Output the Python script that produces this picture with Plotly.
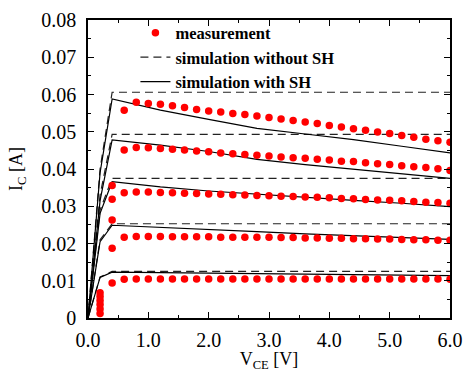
import plotly.graph_objects as go

# ---------------- data ----------------
vce_meas = [0.6, 0.8, 1.0, 1.2, 1.4, 1.6, 1.8, 2.0, 2.2, 2.4, 2.6, 2.8, 3.0, 3.2,
            3.4, 3.6, 3.8, 4.0, 4.2, 4.4, 4.6, 4.8, 5.0, 5.2, 5.4, 5.6, 5.8, 6.0]
ic_meas_1 = [0.0104, 0.0105, 0.0105, 0.0105, 0.0105, 0.0105, 0.0105, 0.0105, 0.0105, 0.0105,
             0.0105, 0.0105, 0.0105, 0.0105, 0.0105, 0.0105, 0.0105, 0.0105, 0.0105, 0.0105,
             0.0105, 0.0105, 0.0105, 0.0105, 0.0105, 0.0105, 0.0105, 0.0104]
ic_meas_2 = [0.0217, 0.0219, 0.0219, 0.0219, 0.0218, 0.0218, 0.0218, 0.0218, 0.0217, 0.0217,
             0.0217, 0.0217, 0.0217, 0.0216, 0.0216, 0.0215, 0.0215, 0.0214, 0.0214, 0.0213,
             0.0213, 0.0212, 0.0212, 0.0211, 0.0210, 0.0210, 0.0209, 0.0209]
ic_meas_3 = [0.0336, 0.0338, 0.0338, 0.0337, 0.0336, 0.0335, 0.0334, 0.0333, 0.0332, 0.0331,
             0.0330, 0.0329, 0.0328, 0.0327, 0.0326, 0.0325, 0.0324, 0.0323, 0.0321, 0.0320,
             0.0318, 0.0317, 0.0316, 0.0315, 0.0313, 0.0311, 0.0310, 0.0308]
ic_meas_4 = [0.0451, 0.0458, 0.0457, 0.0455, 0.0453, 0.0451, 0.0448, 0.0446, 0.0443, 0.0441,
             0.0439, 0.0437, 0.0435, 0.0432, 0.0430, 0.0429, 0.0426, 0.0424, 0.0421, 0.0420,
             0.0417, 0.0414, 0.0412, 0.0409, 0.0406, 0.0404, 0.0401, 0.0396]
ic_meas_5 = [0.0558, 0.0579, 0.0576, 0.0574, 0.0570, 0.0565, 0.0560, 0.0556, 0.0553, 0.0549,
             0.0546, 0.0542, 0.0538, 0.0534, 0.0530, 0.0526, 0.0522, 0.0517, 0.0513, 0.0508,
             0.0504, 0.0499, 0.0495, 0.0490, 0.0485, 0.0480, 0.0476, 0.0472]

# measured points in the saturation region
sat_vce = [0.2, 0.2, 0.2, 0.2, 0.2, 0.2, 0.4, 0.4, 0.4, 0.4, 0.4]
sat_ic = [0.0012, 0.0024, 0.0036, 0.0047, 0.0058, 0.0068, 0.0094, 0.0187, 0.0263, 0.0319, 0.0356]

# simulation without self-heating
vce_noSH = [0.0, 0.2, 0.4, 6.0]
ic_noSH_1 = [0.0, 0.0110, 0.0125, 0.0125]
ic_noSH_2 = [0.0, 0.0210, 0.0253, 0.0253]
ic_noSH_3 = [0.0, 0.0290, 0.0375, 0.0375]
ic_noSH_4 = [0.0, 0.0330, 0.0493, 0.0493]
ic_noSH_5 = [0.0, 0.0400, 0.0606, 0.0606]

# simulation with self-heating
vce_SH = [0.0, 0.2, 0.4, 1.2, 2.0, 2.8, 3.6, 4.4, 5.2, 6.0]
ic_SH_1 = [0.0, 0.0109, 0.0123, 0.0122, 0.0121, 0.0119, 0.0118, 0.0117, 0.0115, 0.0114]
ic_SH_2 = [0.0, 0.0205, 0.0249, 0.0244, 0.0238, 0.0232, 0.0226, 0.0221, 0.0216, 0.0211]
ic_SH_3 = [0.0, 0.0281, 0.0366, 0.0352, 0.0341, 0.0332, 0.0324, 0.0316, 0.0308, 0.0299]
ic_SH_4 = [0.0, 0.0315, 0.0478, 0.0464, 0.0447, 0.0426, 0.0412, 0.0400, 0.0388, 0.0375]
ic_SH_5 = [0.0, 0.0390, 0.0588, 0.0558, 0.0533, 0.0509, 0.0494, 0.0479, 0.0461, 0.0443]

x_tickvals = [0.0, 1.0, 2.0, 3.0, 4.0, 5.0, 6.0]
x_ticktext = ["0.0", "1.0", "2.0", "3.0", "4.0", "5.0", "6.0"]
y_tickvals = [0.0, 0.01, 0.02, 0.03, 0.04, 0.05, 0.06, 0.07, 0.08]
y_ticktext = ["0", "0.01", "0.02", "0.03", "0.04", "0.05", "0.06", "0.07", "0.08"]

names = ["measurement", "simulation without SH", "simulation with SH"]

# ---------------- figure ----------------
FONT = "Liberation Serif, Times New Roman, serif"
fig = go.Figure()

noSH = [ic_noSH_1, ic_noSH_2, ic_noSH_3, ic_noSH_4, ic_noSH_5]
SH = [ic_SH_1, ic_SH_2, ic_SH_3, ic_SH_4, ic_SH_5]
meas = [ic_meas_1, ic_meas_2, ic_meas_3, ic_meas_4, ic_meas_5]

for i, ys in enumerate(noSH):
    fig.add_trace(go.Scatter(
        x=vce_noSH, y=ys, mode="lines", name=names[1],
        line=dict(color="#222222", width=1.2, dash="8px,5px"),
        legendgroup="nosh", showlegend=(i == 0), legendrank=2))
for i, ys in enumerate(SH):
    fig.add_trace(go.Scatter(
        x=vce_SH, y=ys, mode="lines", name=names[2],
        line=dict(color="black", width=1.2),
        legendgroup="sh", showlegend=(i == 0), legendrank=3))
for i, ys in enumerate(meas):
    fig.add_trace(go.Scatter(
        x=vce_meas, y=ys, mode="markers", name=names[0],
        marker=dict(color="#ff0000", size=7.5, symbol="circle"),
        legendgroup="meas", showlegend=(i == 0), legendrank=1))
fig.add_trace(go.Scatter(
    x=sat_vce, y=sat_ic, mode="markers", name=names[0],
    marker=dict(color="#ff0000", size=7.5, symbol="circle"),
    legendgroup="meas", showlegend=False))

axis_common = dict(
    showline=True, linecolor="black", linewidth=1.5, mirror="allticks",
    ticks="inside", ticklen=6, tickwidth=1, tickcolor="black",
    showgrid=False, zeroline=False, automargin=False,
    tickfont=dict(family=FONT, size=20, color="black"),
)

fig.update_xaxes(
    range=[0, 6.0], tickvals=x_tickvals, ticktext=x_ticktext,
    minor=dict(ticks="inside", ticklen=3, dtick=0.5, tickcolor="black"),
    ticklabelstandoff=3,
    title=dict(text="V<sub>CE</sub> [V]", font=dict(family=FONT, size=18, color="black"), standoff=30),
    **axis_common)
fig.update_yaxes(
    range=[0, 0.08], tickvals=y_tickvals, ticktext=y_ticktext,
    minor=dict(ticks="inside", ticklen=3, dtick=0.005, tickcolor="black"),
    ticklabelstandoff=6,
    title=dict(text="I<sub>C</sub> [A]", font=dict(family=FONT, size=18, color="black"), standoff=14),
    **axis_common)

fig.update_layout(
    width=463, height=372,
    margin=dict(l=88, r=13, t=20, b=54),
    paper_bgcolor="white", plot_bgcolor="white",
    font=dict(family=FONT, color="black"),
    legend=dict(
        x=0.131, y=1.015, xanchor="left", yanchor="top",
        bgcolor="rgba(0,0,0,0)", borderwidth=0,
        font=dict(family=FONT, size=16.5, color="black", weight="bold"),
        itemwidth=30, tracegroupgap=0,
    ),
)

# remove the default page margin so the figure fills the window exactly
fig.write_html("out.html", config={"displayModeBar": False},
               post_script="document.body.style.margin='0';")
